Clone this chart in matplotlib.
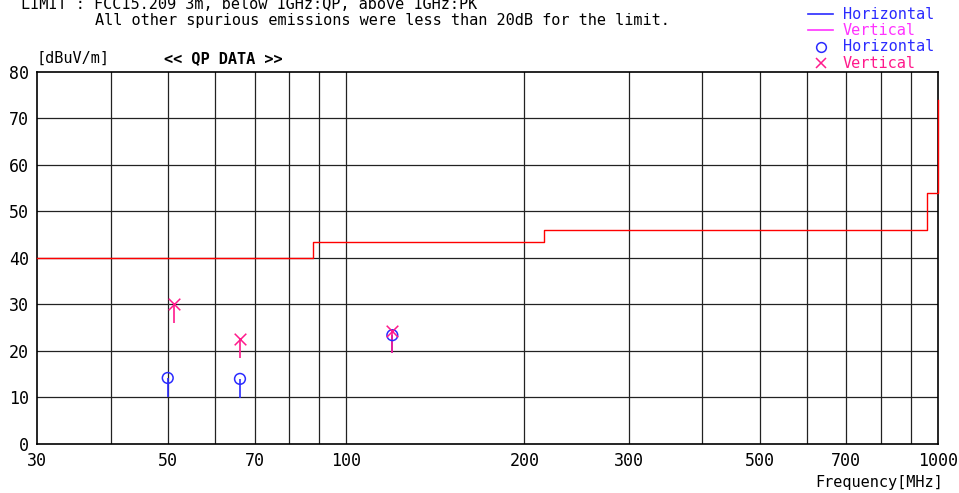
import numpy as np
import matplotlib.pyplot as plt
from matplotlib.ticker import FixedLocator, NullLocator, NullFormatter

# limit line (FCC 15.209, 3m)
limit_freq = [30, 88, 88, 216, 216, 960, 960, 1000, 1000]
limit_level = [40, 40, 43.5, 43.5, 46, 46, 54, 54, 74]

# QP data, horizontal polarisation
h_freq = [49.9, 66.1, 119.6]
h_level = [14.2, 14.0, 23.4]
h_base = [10.2, 9.8, 19.5]

# QP data, vertical polarisation
v_freq = [51.1, 66.0, 119.6]
v_level = [30.1, 22.5, 24.4]
v_base = [26.1, 18.6, 19.6]

grid_freq = [40, 50, 60, 70, 80, 90, 100, 200, 300, 400, 500, 600, 700, 800, 900]
xtick_vals = [30, 50, 70, 100, 200, 300, 500, 700, 1000]
ytick_vals = list(range(0, 81, 10))

BLUE = "#2b2bff"
MAG = "#ff33ff"
PINK = "#ff1a8c"
FONT = "DejaVu Sans Mono"

fig = plt.figure(figsize=(9.59, 4.93), dpi=100)
ax = fig.add_axes([0.0386, 0.0994, 0.9394, 0.7546])
ax.set_xscale("log")
ax.set_xlim(30, 1000)
ax.set_ylim(0, 80)

for f in grid_freq:
    ax.axvline(f, color="#222222", lw=0.9, zorder=1)
for v in ytick_vals[1:-1]:
    ax.axhline(v, color="#222222", lw=0.9, zorder=1)

ax.plot(limit_freq, limit_level, color="#ff0000", lw=1.0, zorder=3,
        clip_on=False)

ax.vlines(h_freq, h_base, h_level, color=BLUE, lw=1.2, zorder=4)
ax.vlines(v_freq, v_base, v_level, color=PINK, lw=1.2, zorder=4)
ax.scatter(h_freq, h_level, marker="o", s=60, facecolors="none",
           edgecolors=BLUE, linewidths=1.1, zorder=5)
ax.scatter(v_freq, v_level, marker="x", s=70, color=PINK,
           linewidths=1.1, zorder=5)

ax.xaxis.set_major_locator(FixedLocator(xtick_vals))
ax.xaxis.set_major_formatter(plt.FixedFormatter([str(v) for v in xtick_vals]))
ax.xaxis.set_minor_locator(NullLocator())
ax.xaxis.set_minor_formatter(NullFormatter())
ax.set_yticks(ytick_vals)
ax.tick_params(length=0, labelsize=12, pad=6)
for lab in ax.get_xticklabels() + ax.get_yticklabels():
    lab.set_family(FONT)
for s in ax.spines.values():
    s.set_color("black")
    s.set_linewidth(1.2)

fig.text(0.022, 0.99, "LIMIT : FCC15.209 3m, below 1GHz:QP, above 1GHz:PK",
         family=FONT, fontsize=11, va="center")
fig.text(0.099, 0.958, "All other spurious emissions were less than 20dB for the limit.",
         family=FONT, fontsize=11, va="center")
fig.text(0.038, 0.882, "[dBuV/m]", family=FONT, fontsize=11, va="center")
fig.text(0.171, 0.882, "<< QP DATA >>", family=FONT, fontsize=11,
         fontweight="bold", va="center")
fig.text(0.983, 0.022, "Frequency[MHz]", family=FONT, fontsize=11,
         ha="right", va="center")

# legend drawn in figure coords
lx0, lx1, tx = 0.843, 0.869, 0.879
rows = [0.971, 0.939, 0.905, 0.872]
fig.add_artist(plt.Line2D([lx0, lx1], [rows[0]] * 2, color=BLUE, lw=1.2))
fig.add_artist(plt.Line2D([lx0, lx1], [rows[1]] * 2, color=MAG, lw=1.2))
fig.add_artist(plt.Line2D([(lx0 + lx1) / 2], [rows[2]], marker="o", ms=7,
                          mfc="none", mec=BLUE, mew=1.1))
fig.add_artist(plt.Line2D([(lx0 + lx1) / 2], [rows[3]], marker="x", ms=7,
                          color=PINK, mew=1.1))
for y, txt, c in zip(rows, ["Horizontal", "Vertical", "Horizontal", "Vertical"],
                     [BLUE, MAG, BLUE, PINK]):
    fig.text(tx, y, txt, family=FONT, fontsize=11, color=c, va="center")

fig.savefig("out.png", dpi=100)
